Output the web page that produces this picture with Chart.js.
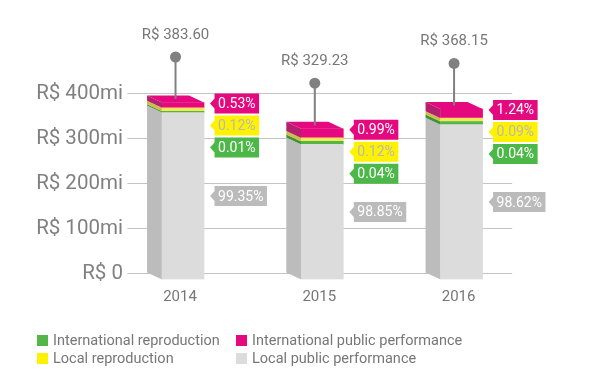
<!DOCTYPE html>
<html><head><meta charset="utf-8">
<script src="https://cdn.jsdelivr.net/npm/chart.js@4.4.1/dist/chart.umd.min.js"></script>
<style>
html,body{margin:0;padding:0;background:#fff;}
#wrap{position:relative;width:590px;height:379px;}
#legend{position:absolute;left:37px;top:331px;display:grid;grid-template-columns:199px auto;font:14.5px Roboto, sans-serif;color:#777;}
.item{display:flex;align-items:center;height:18px;white-space:nowrap;}
.sw{width:11px;height:11px;margin-right:5px;flex:none;}
</style></head><body>
<div id="wrap"><canvas id="c" width="590" height="379"></canvas><div id="legend"></div></div>
<script>
// ---- data ----
const years = ['2014', '2015', '2016'];
const totals = [383.60, 329.23, 368.15];               // R$ mi, labels above bars
const pctIntlPublic = [0.53, 0.99, 1.24];
const pctLocalRepro = [0.12, 0.12, 0.09];
const pctIntlRepro = [0.01, 0.04, 0.04];
const pctLocalPublic = [99.35, 98.85, 98.62];
// segment heights as drawn in the picture (R$ mi)
const localPublicDrawn = [372, 301, 345];
const intlReproDrawn = [3, 6.7, 7.1];
const localReproDrawn = [7.8, 7.8, 7.4];
const intlPublicDrawn = [11.6, 20.5, 20.5];
const yTicks = [0, 100, 200, 300, 400];

const DX = 15, DY = 7, SHIFT_X = 3;

const datasets = [
  {label: 'Local public performance', data: localPublicDrawn, backgroundColor: '#dcdcdc', sideColor: '#bcbcbc', tagBg: '#bbbbbb', tagFg: '#ffffff', pct: pctLocalPublic, swatch: '#dcdcdc'},
  {label: 'International reproduction', data: intlReproDrawn, backgroundColor: '#52b747', sideColor: '#3f9236', tagBg: '#4cb848', tagFg: '#ffffff', pct: pctIntlRepro, swatch: '#52b747'},
  {label: 'Local reproduction', data: localReproDrawn, backgroundColor: '#f6e45c', sideColor: '#cdbd48', tagBg: '#fff200', tagFg: '#b8b8b8', pct: pctLocalRepro, swatch: '#fff200'},
  {label: 'International public performance', data: intlPublicDrawn, backgroundColor: '#e5097f', sideColor: '#b2206e', topColor: '#e5097f', tagBg: '#e5097f', tagFg: '#ffffff', pct: pctIntlPublic, swatch: '#e5097f'}
];

function fmtPct(v) { return v.toFixed(2) + '%'; }
function fmtY(v) { return v === 0 ? 'R$ 0' : 'R$ ' + v + 'mi'; }

function drawTag(ctx, tipX, cy, text, bg, fg) {
  ctx.font = '14px Roboto, sans-serif';
  const w = ctx.measureText(text).width + 7;
  const h = 20, left = tipX + 4.5;
  ctx.fillStyle = bg;
  ctx.beginPath();
  ctx.moveTo(tipX, cy);
  ctx.lineTo(left, cy - 5);
  ctx.lineTo(left, cy - h / 2);
  ctx.lineTo(left + w, cy - h / 2);
  ctx.lineTo(left + w, cy + h / 2);
  ctx.lineTo(left, cy + h / 2);
  ctx.lineTo(left, cy + 5);
  ctx.closePath();
  ctx.fill();
  ctx.fillStyle = fg;
  ctx.textAlign = 'left';
  ctx.textBaseline = 'middle';
  ctx.fillText(text, left + 3.5, cy + 1);
}

const threeD = {
  id: 'threeD',
  beforeDatasetsDraw(chart) {
    const ctx = chart.ctx, ys = chart.scales.y, a = chart.chartArea;
    ctx.save();
    ctx.strokeStyle = '#c4c4c4';
    ctx.lineWidth = 1;
    ctx.fillStyle = '#808080';
    ctx.font = '20.5px Roboto, sans-serif';
    ctx.textAlign = 'right';
    ctx.textBaseline = 'middle';
    ys.ticks.forEach(t => {
      const yp = ys.getPixelForValue(t.value);
      const py = Math.round(yp) + 0.5;
      ctx.beginPath();
      ctx.moveTo(a.left + 17, py);
      ctx.lineTo(a.right - 16, py);
      ctx.stroke();
      ctx.fillText(fmtY(t.value), a.left + 12.5, yp + 1);
    });
    const n = chart.data.datasets.length;
    chart.data.datasets.forEach((ds, di) => {
      const meta = chart.getDatasetMeta(di);
      meta.data.forEach(bar => {
        const p = bar.getProps(['x', 'y', 'base', 'width'], true);
        const L = p.x - p.width / 2 + SHIFT_X;
        const top = Math.min(p.y, p.base), bot = Math.max(p.y, p.base);
        ctx.fillStyle = ds.sideColor;
        ctx.beginPath();
        ctx.moveTo(L - DX, top);
        ctx.lineTo(L, top + DY);
        ctx.lineTo(L, bot + DY);
        ctx.lineTo(L - DX, bot);
        ctx.closePath();
        ctx.fill();
        if (di === n - 1) {
          const R = L + p.width;
          ctx.fillStyle = ds.topColor;
          ctx.beginPath();
          ctx.moveTo(L - DX, top);
          ctx.lineTo(R - DX, top);
          ctx.lineTo(R, top + DY);
          ctx.lineTo(L, top + DY);
          ctx.closePath();
          ctx.fill();
        }
      });
    });
    ctx.restore();
    ctx.save();
    ctx.translate(SHIFT_X, DY);
  },
  afterDatasetsDraw(chart) {
    const ctx = chart.ctx;
    ctx.restore();
    const dsets = chart.data.datasets;
    const n = dsets.length;
    const topMeta = chart.getDatasetMeta(n - 1);
    const greyMeta = chart.getDatasetMeta(0);
    ctx.save();
    topMeta.data.forEach((bar, i) => {
      const p = bar.getProps(['x', 'y', 'width'], true);
      const frontTop = p.y + DY;
      const cx = p.x + SHIFT_X - DX / 2;
      const dotY = frontTop - 45.5;
      ctx.strokeStyle = '#808080';
      ctx.lineWidth = 2;
      ctx.beginPath();
      ctx.moveTo(cx, dotY);
      ctx.lineTo(cx, p.y + DY / 2);
      ctx.stroke();
      ctx.fillStyle = '#808080';
      ctx.beginPath();
      ctx.arc(cx, dotY, 5.5, 0, Math.PI * 2);
      ctx.fill();
      ctx.fillStyle = '#777';
      ctx.font = '15px Roboto, sans-serif';
      ctx.textAlign = 'center';
      ctx.textBaseline = 'middle';
      ctx.fillText('R$ ' + totals[i].toFixed(2), cx, dotY - 22);

      const tipX = p.x + p.width / 2 + SHIFT_X + 6;
      [3, 2, 1].forEach((di, k) => {
        const ds = dsets[di];
        drawTag(ctx, tipX, frontTop + 1 + k * 22, fmtPct(ds.pct[i]), ds.tagBg, ds.tagFg);
      });
      const g = greyMeta.data[i].getProps(['y', 'base'], true);
      const gy = (g.y + g.base) / 2 + DY;
      drawTag(ctx, tipX, gy, fmtPct(dsets[0].pct[i]), dsets[0].tagBg, dsets[0].tagFg);
    });
    ctx.restore();
  }
};

new Chart(document.getElementById('c'), {
  type: 'bar',
  data: {labels: years, datasets: datasets.map(d => Object.assign({barThickness: 42, borderWidth: 0}, d))},
  options: {
    responsive: false,
    devicePixelRatio: 1,
    animation: false,
    layout: {padding: {left: 35.4, right: 61.8, top: 93, bottom: 66.5}},
    plugins: {legend: {display: false}, tooltip: {enabled: false}},
    scales: {
      x: {
        stacked: true,
        grid: {display: false, drawTicks: false},
        border: {display: false},
        ticks: {color: '#777', font: {family: 'Roboto', size: 15}, padding: 16},
        afterFit(s) { s.height = 40; }
      },
      y: {
        stacked: true,
        min: 0, max: 400,
        grid: {display: false, drawTicks: false},
        border: {display: false},
        afterBuildTicks(s) { s.ticks = yTicks.map(v => ({value: v})); },
        ticks: {display: false, callback: v => fmtY(v)},
        afterFit(s) { s.width = 75; }
      }
    }
  },
  plugins: [threeD]
});

// legend (two aligned columns, as in the reference)
const legendOrder = [1, 3, 2, 0];
const lg = document.getElementById('legend');
legendOrder.forEach(di => {
  const d = datasets[di];
  const it = document.createElement('div');
  it.className = 'item';
  const sw = document.createElement('span');
  sw.className = 'sw';
  sw.style.background = d.swatch;
  const tx = document.createElement('span');
  tx.textContent = d.label;
  it.appendChild(sw);
  it.appendChild(tx);
  lg.appendChild(it);
});
</script>
</body></html>
